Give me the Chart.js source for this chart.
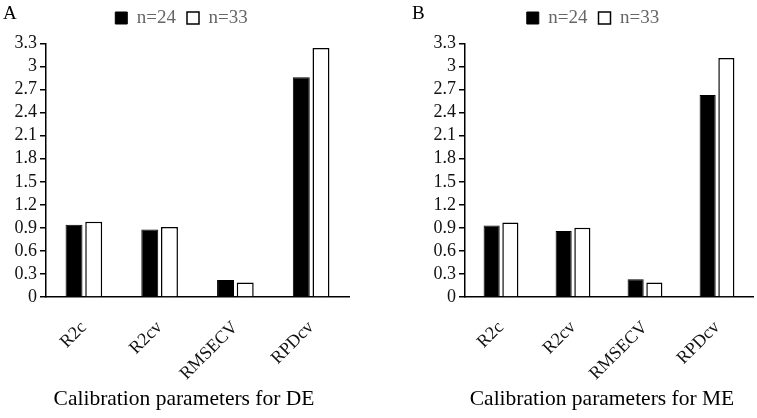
<!DOCTYPE html>
<html>
<head>
<meta charset="utf-8">
<script src="https://cdn.jsdelivr.net/npm/chart.js@4.4.1/dist/chart.umd.min.js"></script>
<style>
  html, body { margin: 0; padding: 0; background: #fff; }
  .panel { position: absolute; top: 0; }
</style>
</head>
<body>
<div class="panel" style="left:0"><canvas id="chartA" width="378" height="418"></canvas></div>
<div class="panel" style="left:378px"><canvas id="chartB" width="379" height="418"></canvas></div>
<script>
const categories = ['R2c', 'R2cv', 'RMSECV', 'RPDcv'];
const seriesLabels = ['n=24', 'n=33'];

// panel A - DE
const deN24 = [0.94, 0.88, 0.22, 2.86];
const deN33 = [0.98, 0.91, 0.19, 3.24];
// panel B - ME
const meN24 = [0.93, 0.86, 0.23, 2.63];
const meN33 = [0.97, 0.90, 0.19, 3.11];

const yMax = 3.3;
const yStep = 0.3;

const serif = '"Liberation Serif", "Times New Roman", serif';

// draws the panel letter and the x axis caption
const panelText = {
  id: 'panelText',
  afterDraw(chart, args, opts) {
    const ctx = chart.ctx;
    ctx.save();
    ctx.fillStyle = '#000';
    ctx.textBaseline = 'alphabetic';
    ctx.font = '19px ' + serif;
    ctx.textAlign = 'left';
    ctx.fillText(opts.letter, opts.letterX, 19);
    ctx.font = '21.5px ' + serif;
    ctx.textAlign = 'center';
    ctx.fillText(opts.caption, opts.captionX, 405);
    ctx.restore();
  }
};

function makeChart(id, n24, n33, pad, text) {
  const ctx = document.getElementById(id).getContext('2d');
  return new Chart(ctx, {
    type: 'bar',
    data: {
      labels: categories,
      datasets: [{
        label: seriesLabels[0],
        data: n24,
        backgroundColor: '#000',
        borderColor: '#000',
        borderWidth: 1
      }, {
        label: seriesLabels[1],
        data: n33,
        backgroundColor: '#fff',
        borderColor: '#000',
        borderWidth: 1.5
      }]
    },
    options: {
      responsive: false,
      animation: false,
      devicePixelRatio: 1,
      categoryPercentage: 0.52,
      barPercentage: 0.86,
      layout: { padding: pad },
      plugins: {
        tooltip: { enabled: false },
        legend: {
          position: 'top',
          weight: 2000,
          labels: {
            boxWidth: 12,
            boxHeight: 12,
            padding: 11,
            color: '#666',
            font: { family: serif, size: 19 }
          }
        },
        // empty spacer between legend and plot
        subtitle: {
          display: true,
          text: '',
          position: 'top',
          weight: 1500,
          padding: 0,
          font: { size: 5, lineHeight: 1.2 }
        },
        panelText: text
      },
      scales: {
        x: {
          grid: { display: false },
          border: { display: true, color: '#000', width: 1.5 },
          ticks: {
            color: '#111',
            maxRotation: 45,
            minRotation: 45,
            padding: 12,
            font: { family: serif, size: 18 }
          },
          afterFit: (scale) => { scale.height = 121; }
        },
        y: {
          min: 0,
          max: yMax,
          grid: {
            drawOnChartArea: false,
            drawTicks: true,
            tickLength: 6,
            color: '#000',
            lineWidth: 1.5
          },
          border: { display: true, color: '#000', width: 1.5 },
          ticks: {
            stepSize: yStep,
            autoSkip: false,
            padding: 3,
            color: '#111',
            font: { family: serif, size: 18 },
            callback: (v) => String(+Number(v).toFixed(1))
          },
          afterFit: (scale) => { scale.width = 32; }
        }
      }
    },
    plugins: [panelText]
  });
}

makeChart('chartA', deN24, deN33, { top: -2.5, left: 14, right: 29, bottom: 0 },
  { letter: 'A', letterX: 3, caption: 'Calibration parameters for DE', captionX: 184 });
makeChart('chartB', meN24, meN33, { top: -2.5, left: 55, right: 4, bottom: 0 },
  { letter: 'B', letterX: 34, caption: 'Calibration parameters for ME', captionX: 224 });
</script>
</body>
</html>
